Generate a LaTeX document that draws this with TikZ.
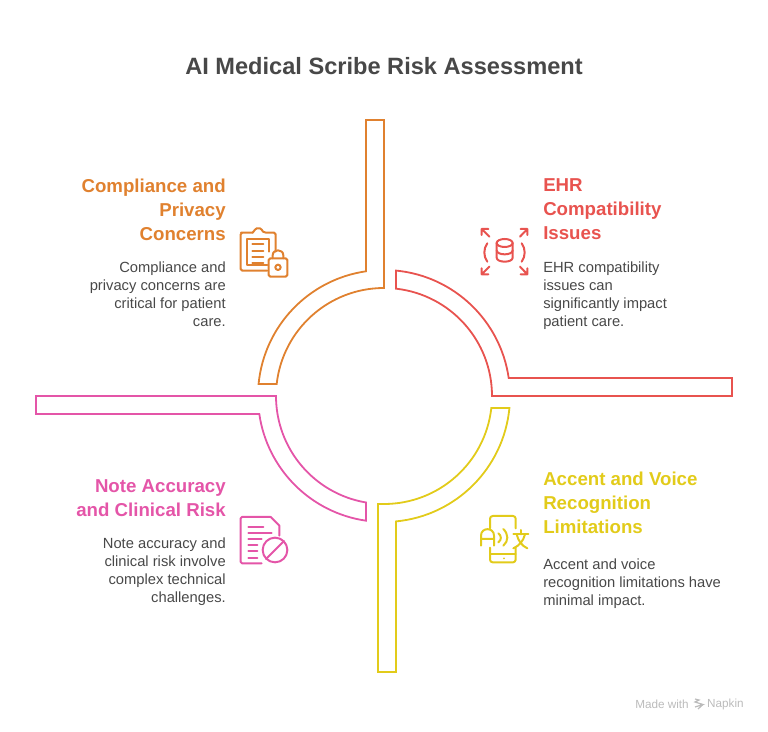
\documentclass[tikz,border=0pt]{standalone}
\usepackage{fontspec}
\setmainfont{Liberation Sans}
\usetikzlibrary{positioning}

\definecolor{orangec}{HTML}{E0812F}
\definecolor{redc}{HTML}{E8534F}
\definecolor{yellowc}{HTML}{E2CB1A}
\definecolor{pinkc}{HTML}{E455A8}
\definecolor{textc}{HTML}{484848}
\definecolor{markc}{HTML}{BBBBBB}

\tikzset{
    band/.style={line width=1.35pt, miter limit=10},
    iconline/.style={line width=1.5pt, line cap=round, line join=round},
    heading/.style={inner sep=0pt, font=\fontsize{14}{18}\selectfont\bfseries},
    bodytext/.style={inner sep=0pt, text=textc, font=\fontsize{11.05}{13.5}\selectfont},
    markline/.style={inner sep=0pt, text=markc, font=\fontsize{8.8}{10}\selectfont},
}

\begin{document}
\begin{tikzpicture}[x=0.75pt, y=0.75pt]

    \useasboundingbox (0,0) rectangle (768,732);

    \node[inner sep=0pt, text=textc, font=\fontsize{17.7}{22}\selectfont\bfseries] (title) at (384,666) {AI Medical Scribe Risk Assessment};

    % four bands round the centre
    \begin{scope}[shift={(384,336)}]
        \draw[band, orangec] (-18,276) -- (0,276) -- (90:108)
            arc[start angle=90, end angle=173.6, radius=81pt] -- (174.5:126)
            arc[start angle=174.5, end angle=98.2, radius=94.5pt] -- cycle;
        \draw[band, redc] (348,18) -- (348,0) -- (0:108)
            arc[start angle=0, end angle=83.6, radius=81pt] -- (84.5:126)
            arc[start angle=84.5, end angle=8.2, radius=94.5pt] -- cycle;
        \draw[band, yellowc] (-6,-276) -- (-6,-108) -- (270:108)
            arc[start angle=270, end angle=353.6, radius=81pt] -- (354.5:126)
            arc[start angle=354.5, end angle=275.5, radius=94.5pt] -- (12,-276) -- cycle;
        \draw[band, pinkc] (-348,-18) -- (-348,0) -- (180:108)
            arc[start angle=180, end angle=260.4, radius=81pt] -- (261.8:126)
            arc[start angle=261.8, end angle=188.2, radius=94.5pt] -- cycle;
    \end{scope}

    % texts
    \node[heading, text=orangec, anchor=north east, align=right] (complianceHead) at (226,553.5) {Compliance and\\Privacy\\Concerns};
    \node[bodytext, anchor=north east, align=right] (complianceBody) at (226,470.5) {Compliance and\\privacy concerns are\\critical for patient\\care.};

    \node[heading, text=redc, anchor=north west, align=left] (ehrHead) at (543,553.5) {EHR\\Compatibility\\Issues};
    \node[bodytext, anchor=north west, align=left] (ehrBody) at (543,470.5) {EHR compatibility\\issues can\\significantly impact\\patient care.};

    \node[heading, text=pinkc, anchor=north east, align=right] (noteHead) at (226,253) {Note Accuracy\\and Clinical Risk};
    \node[bodytext, anchor=north east, align=right] (noteBody) at (226,194.5) {Note accuracy and\\clinical risk involve\\complex technical\\challenges.};

    \node[heading, text=yellowc, anchor=north west, align=left] (accentHead) at (543,260) {Accent and Voice\\Recognition\\Limitations};
    \node[bodytext, anchor=north west, align=left] (accentBody) at (543,173.5) {Accent and voice\\recognition limitations have\\minimal impact.};

    % clipboard and lock
    \begin{scope}[shift={(230,522)}, x=0.25pt, y=-0.25pt, iconline, orangec]
        \draw[rounded corners=1.2pt] (68,68) -- (38,68) -- (32,68) -- (32,182) -- (112,182);
        \draw[rounded corners=1.2pt] (68,68) .. controls (75,62) and (75,55) .. (85,55) .. controls (95,55) and (95,62) .. (103,68) -- (137,68) -- (137,125);
        \draw (112,165) -- (52,165) -- (52,86) -- (118,86) -- (118,125);
        \foreach \y in {103,122,140,158}
            \draw (67,\y) -- (100,\y);
        \draw[rounded corners=1.2pt] (116,145) rectangle (172,200);
        \draw (128,145) -- (128,136) .. controls (128,116) and (160,116) .. (160,136) -- (160,145);
        \draw (144,172) circle[radius=2pt];
    \end{scope}

    % database with arrows
    \begin{scope}[shift={(470,517)}, x=0.25pt, y=-0.25pt, iconline, redc]
        \draw (104,84) ellipse[x radius=6pt, y radius=3pt];
        \draw (80,84) -- (80,128) .. controls (80,144) and (128,144) .. (128,128) -- (128,84);
        \draw (80,106) .. controls (80,122) and (128,122) .. (128,106);
        \draw (52,85) .. controls (40,100) and (40,125) .. (52,140);
        \draw (155,85) .. controls (167,100) and (167,125) .. (155,140);
        \draw (58,65) -- (35,42) (35,60) -- (35,42) -- (55,42);
        \draw (150,65) -- (172,42) (152,42) -- (172,42) -- (172,60);
        \draw (58,155) -- (35,178) (35,160) -- (35,178) -- (55,178);
        \draw (150,155) -- (172,178) (152,178) -- (172,178) -- (172,160);
    \end{scope}

    % document with forbidden sign
    \begin{scope}[shift={(230,227)}, x=0.25pt, y=-0.25pt, iconline, pinkc]
        \draw (95,175) -- (36,175) -- (32,171) -- (32,40) -- (36,36) -- (122,36) -- (148,62) -- (148,92);
        \foreach \y/\xe in {65/100,83/125,101/95,120/82,138/82,158/82}
            \draw (55,\y) -- (\xe,\y);
        \draw (135,135) circle[radius=9.25pt];
        \draw (108,162) -- (162,108);
    \end{scope}

    % phone with translation
    \begin{scope}[shift={(470,227)}, x=0.25pt, y=-0.25pt, iconline, yellowc]
        \draw[rounded corners=2pt] (60,70) -- (60,33) -- (137,33) -- (137,70);
        \draw[rounded corners=2pt] (60,128) -- (60,172) -- (137,172) -- (137,128);
        \draw (60,148) -- (137,148);
        \fill (102,160) circle[radius=0.8pt];
        \draw (33,122) -- (33,92) .. controls (33,66) and (72,66) .. (72,92) -- (72,122) (33,102) -- (72,102);
        \draw (85,85) .. controls (95,92) and (95,105) .. (85,112);
        \draw (100,72) .. controls (116,88) and (116,108) .. (100,122);
        \draw (130,88) -- (175,88) (152,75) -- (152,88);
        \draw (140,88) .. controls (145,108) and (155,122) .. (172,130);
        \draw (165,88) .. controls (160,108) and (148,122) .. (130,130);
    \end{scope}

    % footer
    \node[markline, anchor=east] (madeWith) at (689,27.5) {Made with};
    \node[markline, anchor=east] (napkin) at (744,27.5) {Napkin};
    \draw[markc, line width=0.9pt] (695,33) -- (699,32) -- (695,30) -- (703,27.5) -- (695,25) (703,27.5) -- (698,23);

\end{tikzpicture}
\end{document}
